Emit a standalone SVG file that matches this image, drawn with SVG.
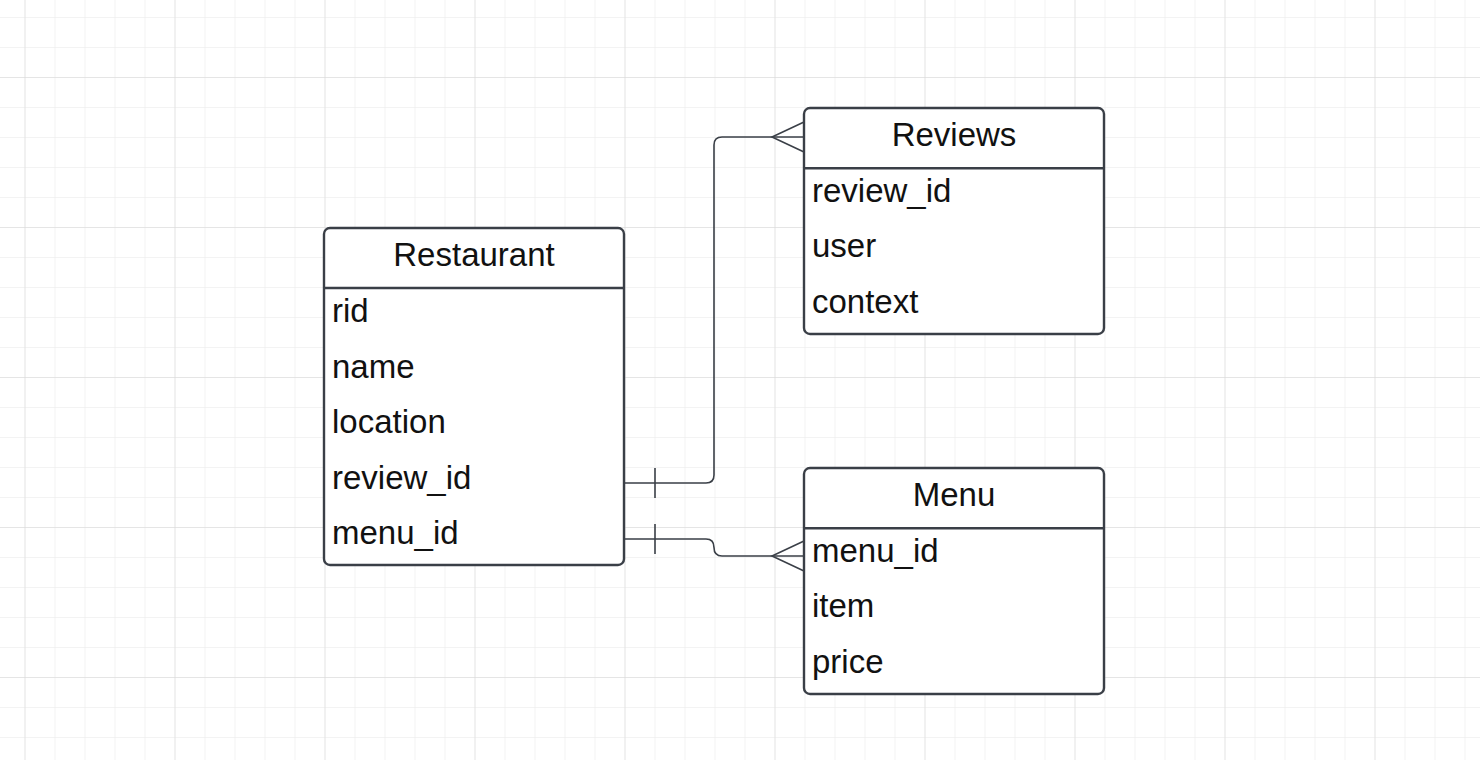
<svg xmlns="http://www.w3.org/2000/svg" width="1480" height="760" viewBox="0 0 1480 760">
<defs>
<pattern id="minor" x="24.5" y="17" width="30" height="30" patternUnits="userSpaceOnUse">
<path d="M0 0V30M0 0H30" fill="none" stroke="#e8e8e8" stroke-width="1"/>
</pattern>
<pattern id="major" x="24.5" y="77" width="150" height="150" patternUnits="userSpaceOnUse">
<path d="M0 0V150M0 0H150" fill="none" stroke="#d8d8d8" stroke-width="1"/>
</pattern>
</defs>
<style>
.box{fill:#ffffff;stroke:#3a3f47;stroke-width:2.4}
.sep{stroke:#3a3f47;stroke-width:2.4}
.hdr{font-family:"Liberation Sans",Arial,sans-serif;font-size:33px;fill:#111;text-anchor:middle}
.row{font-family:"Liberation Sans",Arial,sans-serif;font-size:33px;fill:#111}
.con{fill:none;stroke:#3a3f47;stroke-width:1.6}
</style>
<rect width="1480" height="760" fill="#ffffff"/>
<rect width="1480" height="760" fill="url(#minor)"/>
<rect width="1480" height="760" fill="url(#major)"/>

<g id="connectors">
<path class="con" d="M624 483H706Q714 483 714 475V145Q714 137 722 137H804"/>
<path class="con" d="M655 468V498"/>
<path class="con" d="M804 122L772 137L804 152"/>
<path class="con" d="M624 539H706Q714 539 714 547.5Q714 556 722 556H804"/>
<path class="con" d="M655 524V554"/>
<path class="con" d="M804 541L772 556L804 571"/>
</g>

<g id="restaurant">
<rect class="box" x="324" y="228" width="300" height="337" rx="6"/>
<line class="sep" x1="324" y1="288" x2="624" y2="288"/>
<text class="hdr" x="474" y="265.5">Restaurant</text>
<text class="row" x="332" y="322">rid</text>
<text class="row" x="332" y="377.5">name</text>
<text class="row" x="332" y="433">location</text>
<text class="row" x="332" y="488.5">review_id</text>
<text class="row" x="332" y="544">menu_id</text>
</g>

<g id="reviews">
<rect class="box" x="804" y="108" width="300" height="226" rx="6"/>
<line class="sep" x1="804" y1="168.3" x2="1104" y2="168.3"/>
<text class="hdr" x="954" y="145.5">Reviews</text>
<text class="row" x="812" y="202">review_id</text>
<text class="row" x="812" y="257">user</text>
<text class="row" x="812" y="312.5">context</text>
</g>

<g id="menu">
<rect class="box" x="804" y="468" width="300" height="226" rx="6"/>
<line class="sep" x1="804" y1="528.3" x2="1104" y2="528.3"/>
<text class="hdr" x="954" y="505.5">Menu</text>
<text class="row" x="812" y="562">menu_id</text>
<text class="row" x="812" y="617">item</text>
<text class="row" x="812" y="672.5">price</text>
</g>
</svg>
